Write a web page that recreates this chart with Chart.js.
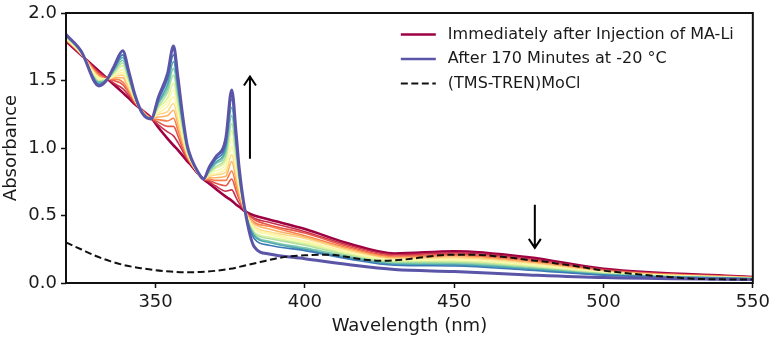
<!DOCTYPE html>
<html>
<head>
<meta charset="utf-8">
<script src="https://cdn.jsdelivr.net/npm/chart.js@4.4.1/dist/chart.umd.min.js"></script>
<style>
  html, body { margin: 0; padding: 0; background: #fff; }
  #wrap { width: 774px; height: 338px; position: relative; }
</style>
</head>
<body>
<div id="wrap"><canvas id="chart"></canvas></div>
<script>
// wavelength grid (nm) shared by all kinetic spectra
const WAVELENGTHS = [320, 325, 331, 333.5, 336, 339, 341, 343, 345.5, 348.5, 351, 354, 356, 357.5, 359, 360.5, 362, 364, 366, 368, 370, 373.5, 375.5, 377, 378, 380, 383, 388, 400, 415, 430, 450, 475, 500, 550];

// absorbance, immediately after injection
const INITIAL = [1.79, 1.69, 1.57, 1.52, 1.47, 1.41, 1.37, 1.325, 1.28, 1.225, 1.15, 1.07, 1.02, 0.985, 0.945, 0.905, 0.87, 0.815, 0.77, 0.735, 0.70, 0.64, 0.61, 0.58, 0.565, 0.53, 0.50, 0.47, 0.40, 0.29, 0.218, 0.235, 0.19, 0.105, 0.045];

// intermediate scans (in time order)
const INTER_1 = [1.80, 1.69, 1.56, 1.52, 1.48, 1.44, 1.39, 1.33, 1.28, 1.22, 1.17, 1.12, 1.09, 1.04, 0.98, 0.92, 0.88, 0.82, 0.77, 0.75, 0.72, 0.68, 0.69, 0.63, 0.59, 0.53, 0.48, 0.45, 0.38, 0.278, 0.209, 0.223, 0.180, 0.100, 0.043];
const INTER_2 = [1.80, 1.70, 1.55, 1.52, 1.50, 1.47, 1.41, 1.34, 1.28, 1.22, 1.19, 1.16, 1.16, 1.09, 1.00, 0.93, 0.88, 0.82, 0.77, 0.76, 0.74, 0.72, 0.77, 0.68, 0.62, 0.53, 0.47, 0.43, 0.37, 0.266, 0.200, 0.212, 0.170, 0.095, 0.042];
const INTER_3 = [1.80, 1.70, 1.54, 1.51, 1.51, 1.49, 1.42, 1.35, 1.27, 1.22, 1.21, 1.20, 1.22, 1.13, 1.03, 0.94, 0.88, 0.82, 0.77, 0.77, 0.76, 0.76, 0.83, 0.72, 0.64, 0.53, 0.45, 0.42, 0.35, 0.257, 0.193, 0.203, 0.162, 0.091, 0.041];
const INTER_4 = [1.81, 1.70, 1.53, 1.51, 1.52, 1.52, 1.44, 1.35, 1.27, 1.22, 1.23, 1.24, 1.28, 1.17, 1.05, 0.95, 0.89, 0.82, 0.77, 0.78, 0.78, 0.79, 0.90, 0.76, 0.66, 0.53, 0.44, 0.40, 0.34, 0.247, 0.185, 0.193, 0.154, 0.087, 0.039];
const INTER_5 = [1.81, 1.70, 1.52, 1.51, 1.53, 1.54, 1.45, 1.36, 1.27, 1.22, 1.25, 1.27, 1.33, 1.21, 1.07, 0.96, 0.89, 0.82, 0.77, 0.79, 0.80, 0.82, 0.95, 0.80, 0.69, 0.53, 0.42, 0.38, 0.33, 0.238, 0.178, 0.185, 0.146, 0.083, 0.038];
const INTER_6 = [1.81, 1.70, 1.52, 1.51, 1.53, 1.56, 1.47, 1.36, 1.27, 1.22, 1.26, 1.31, 1.38, 1.25, 1.09, 0.97, 0.90, 0.82, 0.77, 0.80, 0.81, 0.85, 1.01, 0.84, 0.71, 0.53, 0.41, 0.37, 0.31, 0.229, 0.172, 0.176, 0.139, 0.080, 0.037];
const INTER_7 = [1.82, 1.71, 1.51, 1.51, 1.54, 1.58, 1.48, 1.37, 1.27, 1.22, 1.28, 1.34, 1.43, 1.29, 1.12, 0.98, 0.90, 0.82, 0.77, 0.81, 0.83, 0.88, 1.07, 0.87, 0.73, 0.53, 0.40, 0.36, 0.30, 0.221, 0.165, 0.168, 0.132, 0.076, 0.036];
const INTER_8 = [1.82, 1.71, 1.50, 1.51, 1.55, 1.61, 1.50, 1.37, 1.27, 1.22, 1.30, 1.37, 1.48, 1.32, 1.14, 0.98, 0.90, 0.82, 0.77, 0.81, 0.85, 0.91, 1.13, 0.91, 0.75, 0.53, 0.38, 0.34, 0.29, 0.212, 0.159, 0.159, 0.124, 0.072, 0.035];
const INTER_9 = [1.83, 1.71, 1.49, 1.51, 1.56, 1.63, 1.51, 1.38, 1.27, 1.22, 1.31, 1.41, 1.54, 1.36, 1.16, 0.99, 0.91, 0.83, 0.77, 0.82, 0.86, 0.94, 1.18, 0.94, 0.77, 0.53, 0.37, 0.33, 0.28, 0.203, 0.152, 0.151, 0.117, 0.069, 0.034];
const INTER_10 = [1.83, 1.71, 1.49, 1.50, 1.57, 1.65, 1.52, 1.38, 1.26, 1.22, 1.33, 1.44, 1.59, 1.40, 1.18, 1.00, 0.91, 0.83, 0.77, 0.83, 0.88, 0.97, 1.24, 0.98, 0.78, 0.53, 0.36, 0.31, 0.26, 0.195, 0.145, 0.143, 0.110, 0.065, 0.033];
const INTER_11 = [1.83, 1.72, 1.48, 1.50, 1.58, 1.67, 1.54, 1.39, 1.26, 1.22, 1.34, 1.47, 1.64, 1.43, 1.20, 1.01, 0.91, 0.83, 0.77, 0.84, 0.89, 1.00, 1.30, 1.02, 0.80, 0.53, 0.35, 0.30, 0.25, 0.186, 0.139, 0.134, 0.103, 0.061, 0.032];
const INTER_12 = [1.84, 1.72, 1.47, 1.50, 1.59, 1.69, 1.55, 1.39, 1.26, 1.22, 1.36, 1.51, 1.69, 1.47, 1.22, 1.02, 0.92, 0.83, 0.77, 0.85, 0.91, 1.03, 1.36, 1.05, 0.82, 0.53, 0.33, 0.28, 0.24, 0.177, 0.132, 0.126, 0.095, 0.058, 0.030];

// absorbance after 170 min at -20 °C
const FINAL = [1.84, 1.72, 1.46, 1.50, 1.60, 1.72, 1.57, 1.40, 1.26, 1.215, 1.38, 1.55, 1.755, 1.52, 1.25, 1.03, 0.92, 0.83, 0.77, 0.86, 0.93, 1.07, 1.43, 1.10, 0.85, 0.53, 0.27, 0.215, 0.18, 0.135, 0.10, 0.085, 0.06, 0.04, 0.025];

// reference spectrum (TMS-TREN)MoCl
const REF_WL = [320, 325, 330, 335, 340, 345, 350, 355, 360, 365, 370, 375, 380, 385, 390, 395, 400, 405, 410, 415, 420, 425, 430, 435, 440, 445, 450, 455, 460, 465, 470, 475, 480, 485, 490, 495, 500, 505, 510, 515, 520, 530, 540, 550];
const REF_ABS = [0.30, 0.25, 0.20, 0.16, 0.13, 0.11, 0.095, 0.085, 0.08, 0.082, 0.09, 0.105, 0.13, 0.155, 0.18, 0.198, 0.205, 0.21, 0.207, 0.19, 0.173, 0.165, 0.168, 0.178, 0.192, 0.205, 0.21, 0.21, 0.206, 0.196, 0.185, 0.17, 0.16, 0.142, 0.128, 0.11, 0.092, 0.08, 0.068, 0.057, 0.048, 0.032, 0.027, 0.025];

const X_TICKS = [350, 400, 450, 500, 550];
const Y_TICKS = [0, 0.5, 1.0, 1.5, 2.0];
const LEGEND_LABELS = ['Immediately after Injection of MA-Li', 'After 170 Minutes at -20 °C', '(TMS-TREN)MoCl'];

// arrows: [wavelength, tail absorbance, head absorbance]
const ARROW_UP = [381.6, 0.92, 1.53];
const ARROW_DOWN = [477, 0.58, 0.26];

// Spectral colormap, red -> blue
const SPECTRAL = ['#9e0142', '#c8304c', '#e65749', '#f7814c', '#fdb264', '#fed885', '#fff3ab',
                  '#f5fbad', '#ddf299', '#b0dfa2', '#7bcaa5', '#4ea7b0', '#3c79b7', '#5b55a8'];

const INTERMEDIATES = [INTER_1, INTER_2, INTER_3, INTER_4, INTER_5, INTER_6, INTER_7, INTER_8, INTER_9, INTER_10, INTER_11, INTER_12];
const TEXT = '#1a1a1a';
const FONT = "'DejaVu Sans', sans-serif";

const toPoints = (xs, ys) => xs.map((x, i) => ({ x: x, y: ys[i] }));

const spectra = [INITIAL, ...INTERMEDIATES, FINAL];
const last = spectra.length - 1;
const datasets = spectra.map((ys, i) => ({
    label: i === 0 ? LEGEND_LABELS[0] : (i === last ? LEGEND_LABELS[1] : 'scan ' + i),
    data: toPoints(WAVELENGTHS, ys),
    borderColor: SPECTRAL[i],
    borderWidth: i === last ? 3 : (i === 0 ? 2.6 : 1.6),
    pointRadius: 0,
    cubicInterpolationMode: 'monotone',
    order: last - i + 1 // initial drawn first, final on top
}));
datasets.push({
    label: LEGEND_LABELS[2],
    data: toPoints(REF_WL, REF_ABS),
    borderColor: '#111',
    borderWidth: 2,
    borderDash: [7, 3.5],
    pointRadius: 0,
    cubicInterpolationMode: 'monotone',
    order: 0
});

// frame + arrows + legend inside the plot
const decorations = {
    id: 'decorations',
    afterDraw(chart) {
        const ctx = chart.ctx;
        const a = chart.chartArea;
        const xs = chart.scales.x, ys = chart.scales.y;
        ctx.save();

        // arrows
        ctx.strokeStyle = '#000';
        ctx.lineWidth = 2;
        [ARROW_UP, ARROW_DOWN].forEach(([wl, from, to]) => {
            const x = xs.getPixelForValue(wl);
            const y0 = ys.getPixelForValue(from), y1 = ys.getPixelForValue(to);
            const d = y1 < y0 ? 1 : -1;
            ctx.beginPath();
            ctx.moveTo(x, y0); ctx.lineTo(x, y1);
            ctx.moveTo(x - 6, y1 + d * 9); ctx.lineTo(x, y1); ctx.lineTo(x + 6, y1 + d * 9);
            ctx.stroke();
        });

        // legend
        const rows = [
            { color: SPECTRAL[0], dash: [], w: 2.6 },
            { color: SPECTRAL[last], dash: [], w: 2.6 },
            { color: '#111', dash: [7, 3.5], w: 2 }
        ];
        ctx.font = '16px ' + FONT;
        ctx.textBaseline = 'middle';
        rows.forEach((r, i) => {
            const y = a.top + 21.5 + i * 24.5;
            ctx.beginPath();
            ctx.setLineDash(r.dash);
            ctx.lineWidth = r.w;
            ctx.strokeStyle = r.color;
            ctx.moveTo(a.right - 352, y); ctx.lineTo(a.right - 317, y);
            ctx.stroke();
            ctx.setLineDash([]);
            ctx.fillStyle = TEXT;
            ctx.fillText(LEGEND_LABELS[i], a.right - 305, y);
        });

        // frame
        ctx.strokeStyle = '#111';
        ctx.lineWidth = 2;
        ctx.strokeRect(a.left, a.top, a.right - a.left, a.bottom - a.top);
        ctx.restore();
    }
};

Chart.defaults.font.family = FONT;

new Chart(document.getElementById('chart'), {
    type: 'line',
    data: { datasets: datasets },
    options: {
        responsive: true,
        maintainAspectRatio: false,
        animation: false,
        layout: { padding: { top: 9, right: 19, left: 0, bottom: 0 } },
        plugins: { legend: { display: false }, tooltip: { enabled: false } },
        scales: {
            x: {
                type: 'linear',
                min: 320,
                max: 550,
                afterFit: (s) => { s.height = 55; },
                afterBuildTicks: (s) => { s.ticks = X_TICKS.map(v => ({ value: v })); },
                border: { display: false },
                grid: { drawOnChartArea: false, tickLength: 5, tickColor: '#111', tickWidth: 1.5 },
                ticks: { color: TEXT, font: { size: 18 }, padding: 4, autoSkip: false, maxRotation: 0 },
                title: { display: true, text: 'Wavelength (nm)', color: TEXT, font: { size: 18 }, padding: { top: 0, bottom: 1 } }
            },
            y: {
                min: 0,
                max: 2,
                afterFit: (s) => { s.width = 66; },
                afterBuildTicks: (s) => { s.ticks = Y_TICKS.map(v => ({ value: v })); },
                border: { display: false },
                grid: { drawOnChartArea: false, tickLength: 5, tickColor: '#111', tickWidth: 1.5 },
                ticks: { color: TEXT, font: { size: 18, lineHeight: 1 }, padding: 4, autoSkip: false,
                         callback: (v) => Number(v).toFixed(1) },
                title: { display: true, text: 'Absorbance', color: TEXT, font: { size: 18 }, padding: { top: 1, bottom: 0 } }
            }
        }
    },
    plugins: [decorations]
});
</script>
</body>
</html>
